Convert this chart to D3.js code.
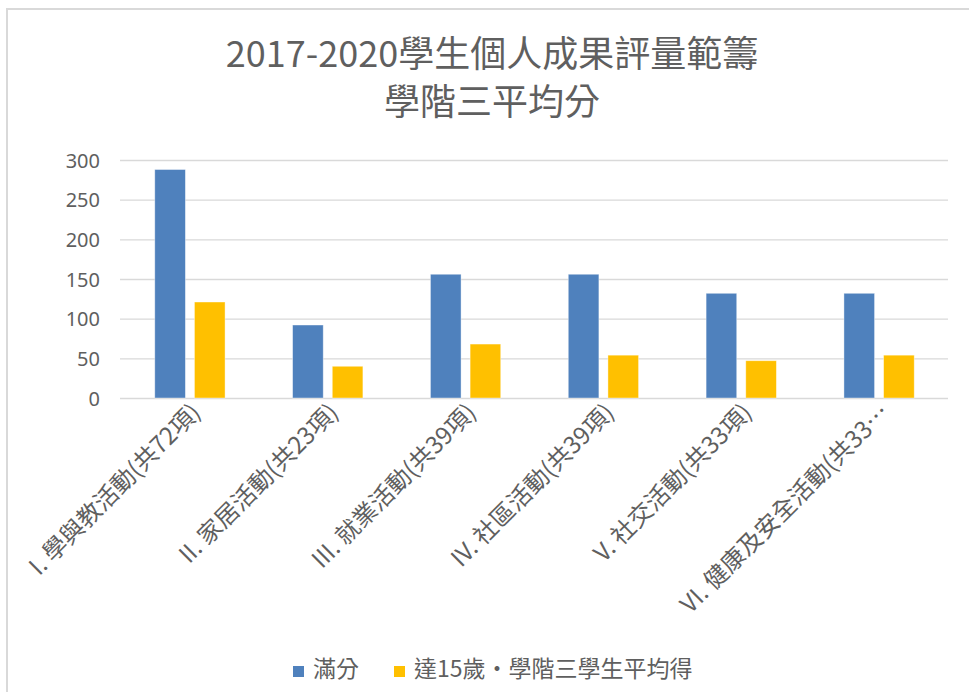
<!DOCTYPE html>
<html>
<head>
<meta charset="utf-8">
<script src="https://cdn.jsdelivr.net/npm/d3@7"></script>
<style>
  body { margin: 0; background: #fff; }
  text { fill: #5f5f5f; }
</style>
</head>
<body>
<svg id="chart"></svg>
<script>
// chart data
const categories = [
  "I. 學與教活動(共72項)",
  "II. 家居活動(共23項)",
  "III. 就業活動(共39項)",
  "IV. 社區活動(共39項)",
  "V. 社交活動(共33項)",
  "VI. 健康及安全活動(共33項)"
];
const seriesNames = ["滿分", "達15歲・學階三學生平均得"];
const fullScore = [288, 92, 156, 156, 132, 132];
const avgScore = [121, 40, 68, 54, 47, 54];
const yTicks = [0, 50, 100, 150, 200, 250, 300];
const titleLines = ["2017-2020學生個人成果評量範籌", "學階三平均分"];

const width = 969, height = 692
const cjk = "'Noto Sans CJK TC', 'Noto Sans', sans-serif"
const colors = ["#4f81bd", "#ffc000"]

const svg = d3.select("#chart")
  .attr("width", width)
  .attr("height", height)

// chart frame (only top / left visible)
svg.append("rect")
  .attr("x", 7).attr("y", 9)
  .attr("width", 1000).attr("height", 1000)
  .attr("fill", "#fff")
  .attr("stroke", "#d9d9d9")
  .attr("stroke-width", 2)

// title
svg.append("g").selectAll("text")
  .data(titleLines).enter()
  .append("text")
  .attr("x", 492)
  .attr("y", (d, i) => 67 + i * 48)
  .attr("text-anchor", "middle")
  .style("font-family", cjk)
  .style("font-size", "36px")
  .text(d => d)

const plot = { left: 121, right: 948, top: 160, bottom: 398 }

let x = d3.scaleBand()
  .domain(categories)
  .range([plot.left, plot.right])
  .paddingInner(0.49)
  .paddingOuter(0.245)
let xSub = d3.scaleBand()
  .domain(seriesNames)
  .range([0, x.bandwidth()])
  .paddingInner(0.228)
let y = d3.scaleLinear()
  .domain([0, 300])
  .range([plot.bottom, plot.top])

// gridlines
let grid = svg.append("g")
  .attr("transform", `translate(${plot.left - 1},0)`)
  .call(d3.axisLeft(y).tickValues(yTicks).tickSize(-(plot.right - plot.left + 1)).tickFormat(""))
grid.select(".domain").remove()
grid.selectAll("line").attr("stroke", "#d9d9d9").attr("stroke-width", 1.3)

// y axis labels
let yAxis = svg.append("g")
  .attr("transform", "translate(100,0)")
  .call(d3.axisLeft(y).tickValues(yTicks).tickSize(0).tickPadding(0))
yAxis.select(".domain").remove()
yAxis.selectAll("text")
  .attr("dy", "0.36em")
  .style("font-family", "'Noto Sans', sans-serif")
  .style("font-size", "20px")
  .style("fill", "#5f5f5f")

// bars
const table = categories.map((c, i) => ({ cat: c, values: [fullScore[i], avgScore[i]] }))
let groups = svg.append("g").selectAll("g")
  .data(table).enter()
  .append("g")
  .attr("transform", d => `translate(${x(d.cat)},0)`)
groups.selectAll("rect")
  .data(d => d.values.map((v, k) => ({ key: seriesNames[k], v: v, k: k })))
  .enter()
  .append("rect")
  .attr("x", d => xSub(d.key))
  .attr("y", d => y(d.v))
  .attr("width", xSub.bandwidth())
  .attr("height", d => y(0) - y(d.v))
  .attr("fill", d => colors[d.k])
  .attr("stroke", "#fff")
  .attr("stroke-opacity", 0.5)
  .attr("stroke-width", 0.8)

// x labels, rotated, long ones cut like Excel does
const shortLabel = (s) => s.length > 15 ? s.slice(0, 15) + "…" : s
svg.append("g").selectAll("text")
  .data(categories).enter()
  .append("text")
  .attr("transform", d => `translate(${x(d) + x.bandwidth() / 2 + 12},414) rotate(-45)`)
  .attr("text-anchor", "end")
  .style("font-family", cjk)
  .style("font-size", "24px")
  .text(d => shortLabel(d))

// legend
let legend = svg.append("g").selectAll("g")
  .data(seriesNames).enter()
  .append("g")
  .attr("transform", (d, i) => `translate(${[293, 394][i]},666)`)
legend.append("rect")
  .attr("width", 11).attr("height", 11)
  .attr("fill", (d, i) => colors[i])
legend.append("text")
  .attr("x", 20).attr("y", 11)
  .style("font-family", cjk)
  .style("font-size", "23px")
  .text(d => d)
</script>
</body>
</html>
